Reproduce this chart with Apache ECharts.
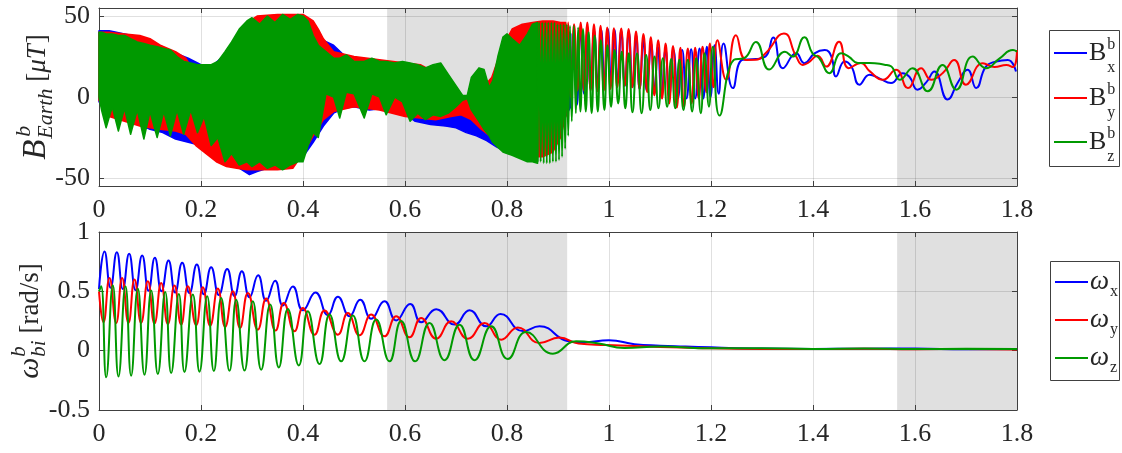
<!DOCTYPE html>
<html>
<head>
<meta charset="utf-8">
<script src="https://cdn.jsdelivr.net/npm/echarts@6/dist/echarts.min.js"></script>
<style>
  html, body { margin: 0; padding: 0; background: #ffffff; }
  #chart { width: 1122px; height: 453px; }
</style>
</head>
<body>
<div id="chart"></div>
<script>
// ---- time axis ----
const tMin = 0, tMax = 1.8, tStep = 0.2;

// eclipse intervals (shaded)
const eclipse = [[0.565, 0.918], [1.565, 1.8]];

// tick values
const bTicks = [-50, 0, 50];
const bRange = [-55, 55];
const wRange = [-0.5, 1];
const wStep = 0.5;

// ---- Earth magnetic field in body frame [uT] ----
// fast-spin part: envelope of the oscillation [t, low, high]
const bxBand = [
  [0, -3, 41], [0.02, -8, 41], [0.05, -13, 39], [0.08, -17, 37], [0.1, -20, 35],
  [0.125, -22, 31], [0.15, -26, 27], [0.175, -28, 24], [0.2, -30, 20], [0.225, -34, 20],
  [0.25, -40, 27], [0.275, -44, 35], [0.295, -48, 40], [0.31, -46, 44], [0.33, -44, 45],
  [0.35, -42, 45], [0.38, -40, 45], [0.4, -37, 44], [0.42, -28, 40], [0.44, -18, 35],
  [0.46, -10, 32], [0.48, -7, 26], [0.5, -6, 23], [0.53, -8, 21], [0.56, -7, 20],
  [0.59, -8, 19], [0.62, -15, 17], [0.65, -17, 15], [0.68, -18, 8], [0.7, -19, -6],
  [0.72, -22, -12], [0.74, -24, -13], [0.76, -27, -5], [0.78, -31, 10], [0.8, -34, 28],
  [0.82, -36, 38], [0.84, -37, 41], [0.86, -36, 42], [0.88, -32, 42], [0.9, -24, 42],
  [0.915, -12, 41], [0.925, -6, 39]
];
const byBand = [
  [0, -2, 40], [0.02, -12, 40], [0.05, -15, 39], [0.08, -18, 38], [0.1, -19, 36],
  [0.12, -20, 32], [0.15, -21, 28], [0.17, -23, 24], [0.19, -30, 14], [0.21, -35, 10],
  [0.23, -40, 14], [0.25, -43, 26], [0.27, -44, 38], [0.29, -45, 46], [0.31, -45, 50],
  [0.35, -45, 51], [0.38, -44, 51], [0.4, -35, 51], [0.42, -24, 47], [0.43, -19, 42],
  [0.44, -14, 36], [0.46, -9, 28], [0.5, -6, 25], [0.55, -8, 23], [0.6, -12, 21],
  [0.63, -13, 20], [0.66, -14, 15], [0.69, -12, 5], [0.71, -11, 0], [0.73, -14, -1],
  [0.75, -20, 5], [0.77, -25, 12], [0.79, -29, 30], [0.81, -32, 42], [0.83, -35, 45],
  [0.85, -37, 46], [0.87, -37, 47], [0.89, -34, 47], [0.905, -25, 46], [0.915, -12, 46]
];
const bzBand = [
  [0, 0, 40], [0.005, -8, 40], [0.014, -19, 39], [0.026, -6, 39], [0.038, -21, 38],
  [0.05, -7, 38], [0.062, -23, 36], [0.075, -8, 34], [0.088, -26, 33], [0.1, -9, 32],
  [0.114, -25, 31], [0.127, -9, 30], [0.14, -24, 29], [0.153, -8, 25], [0.166, -23, 22],
  [0.18, -8, 21], [0.193, -22, 20], [0.206, -12, 20], [0.22, -30, 20], [0.233, -25, 22],
  [0.247, -40, 28], [0.26, -35, 34], [0.275, -42, 42], [0.29, -40, 47], [0.3, -43, 49],
  [0.315, -40, 45], [0.33, -44, 50], [0.345, -42, 46], [0.36, -45, 51], [0.375, -42, 48],
  [0.39, -40, 51], [0.4, -40, 50], [0.41, -30, 47], [0.42, -22, 38], [0.43, -25, 32],
  [0.445, 2, 28], [0.46, 0, 24], [0.472, -13, 24], [0.485, 3, 26], [0.5, 2, 22],
  [0.52, -13, 22], [0.535, 2, 24], [0.55, 0, 22], [0.563, -11, 22], [0.58, 0, 21],
  [0.595, -3, 22], [0.61, -15, 21], [0.625, -10, 20], [0.64, -14, 18], [0.655, -11, 20],
  [0.67, -12, 21], [0.685, -10, 14], [0.7, -6, 7], [0.713, -2, 1], [0.722, -1, 1],
  [0.73, -8, 12], [0.745, -15, 18], [0.755, -20, 17], [0.765, -24, 6], [0.772, -28, 10],
  [0.782, -31, 25], [0.792, -34, 37], [0.8, -35, 39], [0.81, -36, 36], [0.825, -38, 32],
  [0.84, -40, 39], [0.85, -40, 45], [0.86, -41, 46]
];

// slow part: individual oscillation peaks and troughs [t, value]
const bxLine = [
  [0.925, -6], [0.931, 38], [0.937, -5], [0.944, 40], [0.951, 2], [0.9575, 41], [0.964, 5],
  [0.971, 41], [0.978, 8], [0.9847, 41.5], [0.991, 9], [0.9977, 42], [1.004, 10], [1.0108, 41.5],
  [1.017, 9], [1.0239, 41], [1.031, 7], [1.0389, 40], [1.046, 6], [1.0533, 38], [1.06, 5],
  [1.0676, 35.5], [1.074, 4], [1.0827, 33], [1.089, 2], [1.0958, 31], [1.103, 1], [1.1108, 29.5],
  [1.118, 0], [1.1265, 29], [1.135, -1], [1.1435, 29], [1.152, -1], [1.1611, 29.5], [1.169, -1],
  [1.1775, 30], [1.185, -1], [1.1919, 31], [1.199, 0], [1.207, 32], [1.215, 2], [1.2246, 33],
  [1.243, 5.5], [1.262, 23], [1.288, 23.5], [1.307, 25], [1.322, 36.8], [1.341, 17.8],
  [1.367, 27], [1.383, 20.9], [1.403, 27], [1.423, 29], [1.436, 25], [1.445, 12.7], [1.462, 22],
  [1.475, 19], [1.491, 7.6], [1.511, 13.7], [1.53, 11.5], [1.553, 8.6], [1.576, 14.7],
  [1.589, 12.5], [1.605, 4.5], [1.622, 9], [1.638, 15.7], [1.664, -1.6], [1.684, 9],
  [1.703, 16.8], [1.72, 5.5], [1.739, 18.8], [1.759, 21.9], [1.782, 22.9], [1.798, 15.7]
];
const byLine = [
  [0.915, -12], [0.92, 46], [0.925, 0], [0.9315, 45], [0.938, 4], [0.9445, 46], [0.951, 4],
  [0.9575, 46], [0.964, 4], [0.9705, 45], [0.977, 3.5], [0.9835, 44], [0.99, 4], [0.9965, 43],
  [1.003, 5], [1.0095, 42.5], [1.016, 6], [1.024, 42.3], [1.031, 7], [1.0385, 42], [1.0455, 6],
  [1.053, 40.5], [1.06, 5], [1.0675, 39], [1.075, 3], [1.082, 37], [1.089, 1], [1.0965, 35],
  [1.104, -1], [1.111, 33], [1.118, -4], [1.1255, 31.5], [1.133, -6.5], [1.14, 30.5],
  [1.147, -6], [1.1545, 30], [1.162, -4], [1.169, 30.5], [1.176, -1], [1.1835, 31], [1.191, 3],
  [1.198, 33], [1.205, 6], [1.2125, 35], [1.2298, 10.6], [1.249, 38.2], [1.269, 22.9],
  [1.288, 23], [1.307, 27], [1.343, 39.3], [1.367, 25], [1.38, 19.8], [1.39, 21], [1.409, 25.5],
  [1.426, 18.8], [1.451, 34.2], [1.47, 17.8], [1.494, 21], [1.511, 16], [1.537, 10.6],
  [1.563, 16.8], [1.586, 5.5], [1.612, 17.8], [1.632, 10.6], [1.655, 15], [1.677, 22.9],
  [1.7, 7.6], [1.733, 20.9], [1.756, 18.5], [1.779, 19.8], [1.792, 18.5], [1.8, 29]
];
const bzLine = [
  [0.86, -40], [0.863, 46], [0.866, -40], [0.869, 46], [0.872, -41], [0.875, 46], [0.878, -41],
  [0.881, 46], [0.884, -41], [0.887, 46], [0.89, -40], [0.893, 46], [0.896, -40], [0.899, 45],
  [0.902, -39], [0.905, 45], [0.908, -37], [0.911, 45], [0.914, -32], [0.917, 45], [0.92, -24],
  [0.9235, 44], [0.927, -15], [0.931, 44], [0.935, -10], [0.9395, 43], [0.944, -9], [0.949, 42],
  [0.9545, -9], [0.96, 40], [0.966, -10], [0.972, 38], [0.978, -9], [0.984, 35], [0.991, -8],
  [0.997, 32], [1.004, -6], [1.011, 29], [1.018, -4], [1.025, 28], [1.032, -7], [1.039, 27],
  [1.046, -9.5], [1.055, 27], [1.064, -10], [1.0729, 26], [1.081, -8], [1.0893, 25], [1.097, -7],
  [1.1056, 24], [1.114, -6], [1.122, 23.5], [1.13, -7], [1.138, 23], [1.146, -8], [1.1546, 23],
  [1.163, -9], [1.1709, 24], [1.18, -10], [1.1873, 27], [1.196, -6], [1.2036, 31],
  [1.2167, -11.5], [1.245, 23], [1.265, 24], [1.288, 34], [1.314, 17], [1.345, 28], [1.36, 25],
  [1.383, 37], [1.399, 27], [1.412, 24], [1.432, 14.7], [1.455, 27], [1.47, 25], [1.488, 21],
  [1.511, 21], [1.54, 20], [1.553, 19], [1.57, 10.6], [1.595, 17.8], [1.625, 3.5], [1.654, 19.8],
  [1.681, 4.5], [1.713, 25], [1.739, 17.8], [1.766, 23.9], [1.792, 29], [1.8, 28]
];

// ---- angular rate of body w.r.t. inertial frame [rad/s] ----
const wx = [
  [0, 0.52], [0.0108, 0.835], [0.0226, 0.53], [0.035, 0.83], [0.0467, 0.52], [0.0591, 0.816],
  [0.0716, 0.51], [0.0846, 0.802], [0.0971, 0.505], [0.1095, 0.782], [0.1225, 0.5],
  [0.1363, 0.759], [0.1493, 0.49], [0.1631, 0.74], [0.1774, 0.485], [0.1918, 0.726],
  [0.2056, 0.475], [0.2199, 0.703], [0.235, 0.47], [0.2513, 0.689], [0.2657, 0.46],
  [0.2801, 0.669], [0.2951, 0.45], [0.312, 0.635], [0.3278, 0.42], [0.3454, 0.59],
  [0.3605, 0.38], [0.3801, 0.54], [0.3997, 0.34], [0.4245, 0.49], [0.4487, 0.3],
  [0.4684, 0.455], [0.4912, 0.29], [0.5121, 0.43], [0.5337, 0.27], [0.5598, 0.416],
  [0.5827, 0.255], [0.6101, 0.394], [0.6317, 0.24], [0.6611, 0.35], [0.6971, 0.22],
  [0.7265, 0.341], [0.7592, 0.205], [0.7873, 0.31], [0.831, 0.165], [0.8637, 0.205],
  [0.92, 0.08], [0.95, 0.07], [1.0, 0.087], [1.05, 0.055], [1.1, 0.042], [1.15, 0.035],
  [1.2, 0.028], [1.25, 0.02], [1.3, 0.018], [1.4, 0.015], [1.5, 0.016], [1.6, 0.018],
  [1.7, 0.012], [1.8, 0.014]
];
const wy = [
  [0, 0.5], [0.0088, 0.24], [0.0206, 0.613], [0.0337, 0.234], [0.0453, 0.613], [0.0578, 0.234],
  [0.0696, 0.6], [0.0826, 0.234], [0.0958, 0.585], [0.1088, 0.23], [0.1219, 0.57],
  [0.135, 0.225], [0.148, 0.55], [0.1611, 0.22], [0.1742, 0.543], [0.1905, 0.215],
  [0.2036, 0.535], [0.218, 0.21], [0.233, 0.523], [0.2474, 0.2], [0.2624, 0.5],
  [0.2765, 0.192], [0.292, 0.487], [0.3114, 0.177], [0.3278, 0.44], [0.3461, 0.169],
  [0.3624, 0.402], [0.3833, 0.163], [0.3997, 0.36], [0.4225, 0.135], [0.4422, 0.338],
  [0.4684, 0.135], [0.488, 0.318], [0.5108, 0.129], [0.5337, 0.305], [0.5598, 0.121],
  [0.5827, 0.29], [0.6088, 0.113], [0.6317, 0.276], [0.6611, 0.101], [0.6905, 0.247],
  [0.7232, 0.1], [0.7559, 0.233], [0.7886, 0.093], [0.8212, 0.196], [0.8637, 0.065],
  [0.9029, 0.11], [0.94, 0.06], [0.9944, 0.048], [1.05, 0.04], [1.1, 0.03], [1.2, 0.02],
  [1.3, 0.015], [1.4, 0.013], [1.5, 0.016], [1.6, 0.012], [1.7, 0.014], [1.8, 0.01]
];
const wz = [
  [0, 0.5], [0.0042, 0.543], [0.0141, -0.225], [0.0271, 0.552], [0.0382, -0.217],
  [0.0519, 0.543], [0.063, -0.211], [0.0761, 0.523], [0.0892, -0.203], [0.1023, 0.507],
  [0.1154, -0.197], [0.1298, 0.495], [0.1415, -0.189], [0.1566, 0.478], [0.1676, -0.18],
  [0.184, 0.473], [0.1971, -0.177], [0.2121, 0.459], [0.2252, -0.172], [0.2395, 0.444],
  [0.2559, -0.17], [0.269, 0.43], [0.2853, -0.168], [0.3016, 0.416], [0.318, -0.161],
  [0.3356, 0.388], [0.3526, -0.141], [0.3703, 0.352], [0.3918, -0.124], [0.4095, 0.332],
  [0.4324, -0.113], [0.452, 0.304], [0.4749, -0.09], [0.4977, 0.296], [0.5206, -0.09],
  [0.5435, 0.262], [0.5696, -0.09], [0.5925, 0.25], [0.6199, -0.09], [0.648, 0.234],
  [0.6775, -0.08], [0.7069, 0.219], [0.7363, -0.08], [0.769, 0.205], [0.8016, -0.07],
  [0.8375, 0.157], [0.8899, -0.025], [0.9356, 0.079], [0.98, 0.06], [1.03, 0.022],
  [1.1, 0.035], [1.2, 0.02], [1.3, 0.02], [1.4, 0.015], [1.5, 0.018], [1.6, 0.014],
  [1.7, 0.016], [1.8, 0.015]
];

// ---- styling ----
const SERIF = 'Liberation Serif';
const C_X = '#0000ff', C_Y = '#ff0000', C_Z = '#009900';
const FRAME = '#404040';
const TEXT = '#262626';
const GRIDLINE = 'rgba(0,0,0,0.12)';
const SHADE = '#e0e0e0';
const TICK_FONT = 26;

const chart = echarts.init(document.getElementById('chart'), null, { renderer: 'canvas' });

// tick numbers set in the serif face through a rich-text style
const tickRich = { n: { fontFamily: SERIF, fontSize: TICK_FONT, color: TEXT, lineHeight: TICK_FONT } };
function tickFormat(v) { return '{n|' + String(parseFloat(Number(v).toFixed(3))) + '}'; }

function xAxisDef(gridIndex, position, main) {
  return {
    type: 'value', gridIndex, position, min: tMin, max: tMax, interval: tStep, z: 2,
    axisLine: { show: true, onZero: false, lineStyle: { color: FRAME, width: 1 } },
    axisTick: { show: true, inside: true, length: 5, lineStyle: { color: FRAME, width: 1 } },
    axisLabel: { show: main, fontFamily: SERIF, fontSize: TICK_FONT, color: TEXT, margin: 11,
                 showMinLabel: true, showMaxLabel: true, formatter: tickFormat, rich: tickRich },
    splitLine: { show: main, lineStyle: { color: GRIDLINE, width: 1 } }
  };
}
function yAxisDefB(position, main) {
  return {
    type: 'value', gridIndex: 0, position, min: bRange[0], max: bRange[1], z: 2,
    axisLine: { show: true, onZero: false, lineStyle: { color: FRAME, width: 1 } },
    axisTick: { show: true, inside: true, length: 5, customValues: bTicks, lineStyle: { color: FRAME } },
    axisLabel: { show: main, customValues: bTicks, fontFamily: SERIF, fontSize: TICK_FONT, color: TEXT,
                 margin: 9, formatter: tickFormat, rich: tickRich },
    splitLine: { show: main, lineStyle: { color: GRIDLINE, width: 1 } }
  };
}
function yAxisDefW(position, main) {
  return {
    type: 'value', gridIndex: 1, position, min: wRange[0], max: wRange[1], interval: wStep, z: 2,
    axisLine: { show: true, onZero: false, lineStyle: { color: FRAME, width: 1 } },
    axisTick: { show: true, inside: true, length: 5, lineStyle: { color: FRAME } },
    axisLabel: { show: main, fontFamily: SERIF, fontSize: TICK_FONT, color: TEXT, margin: 9,
                 showMinLabel: true, showMaxLabel: true, formatter: tickFormat, rich: tickRich },
    splitLine: { show: main, lineStyle: { color: GRIDLINE, width: 1 } }
  };
}

// filled envelope of a fast oscillation, drawn as one polygon through the axis scales
function bandSeries(name, color, band) {
  return {
    type: 'custom', name, xAxisIndex: 0, yAxisIndex: 0, z: 3, silent: true,
    data: [[band[0][0], band[0][1]]],
    renderItem: function (params, api) {
      const upper = band.map(p => api.coord([p[0], p[2]]));
      const lower = band.slice().reverse().map(p => api.coord([p[0], p[1]]));
      return {
        type: 'polygon',
        shape: { points: upper.concat(lower) },
        style: { fill: color, stroke: color, lineWidth: 1.5, lineJoin: 'round' }
      };
    }
  };
}
function lineSeries(name, color, data, xi, yi, smooth) {
  return {
    type: 'line', name, xAxisIndex: xi, yAxisIndex: yi, z: 3, data,
    showSymbol: false, smooth, silent: true,
    lineStyle: { color, width: 2 }, itemStyle: { color }
  };
}
function shadeSeries(xi, yi) {
  return {
    type: 'line', xAxisIndex: xi, yAxisIndex: yi, z: 1, data: [], silent: true,
    markArea: {
      silent: true, itemStyle: { color: SHADE },
      data: eclipse.map(([a, b]) => [{ xAxis: a }, { xAxis: b }])
    }
  };
}

// ---- text layout helpers (rotated axis titles, legends) ----
const mctx = document.createElement('canvas').getContext('2d');
function fontOf(size, italic) { return (italic ? 'italic ' : '') + size + 'px ' + SERIF; }
function textW(str, size, italic) { mctx.font = fontOf(size, italic); return mctx.measureText(str).width; }
function textEl(str, x, baseline, size, italic, color) {
  return {
    type: 'text', x, y: baseline - 0.305 * size, silent: true,
    style: { text: str, fontFamily: SERIF, fontSize: size, fontStyle: italic ? 'italic' : 'normal',
             fill: color || TEXT, align: 'left', verticalAlign: 'middle' }
  };
}
// segments laid out along a baseline; a segment may stack a superscript over a subscript
function layoutSegments(segs) {
  const out = [];
  let x = 0;
  segs.forEach(s => {
    if (s.sup) {
      const w1 = textW(s.sup.t, s.sup.s, s.sup.it), w2 = textW(s.sub.t, s.sub.s, s.sub.it);
      out.push(textEl(s.sup.t, x + (s.kern || 0), s.sup.dy, s.sup.s, s.sup.it));
      out.push(textEl(s.sub.t, x, s.sub.dy, s.sub.s, s.sub.it));
      x += Math.max(w1 + (s.kern || 0), w2) + (s.after || 0);
    } else {
      out.push(textEl(s.t, x, 0, s.s, s.it));
      x += textW(s.t, s.s, s.it) + (s.after || 0);
    }
  });
  return { els: out, width: x };
}
function verticalTitle(cy, baselineX, segs) {
  const L = layoutSegments(segs);
  L.els.forEach(e => { e.x -= L.width / 2; });
  return { type: 'group', x: baselineX, y: cy, rotation: Math.PI / 2, children: L.els };
}

const titleB = verticalTitle(97, 46, [
  { t: 'B', s: 33, it: true, after: 1 },
  { sup: { t: 'b', s: 22, it: true, dy: -15 }, sub: { t: 'Earth', s: 22, it: true, dy: 7 }, kern: 2, after: 0 },
  { t: ' [', s: 27 }, { t: '\u03bcT', s: 27, it: true, after: 1 }, { t: ']', s: 27 }
]);
const titleW = verticalTitle(321, 39, [
  { t: '\u03c9', s: 30, it: true, after: 1 },
  { sup: { t: 'b', s: 21, it: true, dy: -13 }, sub: { t: 'bi', s: 21, it: true, dy: 7 }, after: 0 },
  { t: ' [rad/s]', s: 27 }
]);

function legendBox(x, y, w, h, entries, symbol, symSize, symItalic, supOn) {
  const els = [{ type: 'rect', silent: true, shape: { x: x + 0.5, y: y + 0.5, width: w, height: h },
                 style: { fill: '#ffffff', stroke: FRAME, lineWidth: 1 } }];
  entries.forEach(e => {
    els.push({ type: 'line', silent: true, shape: { x1: x + 5, y1: e.y, x2: x + 38, y2: e.y },
               style: { stroke: e.color, lineWidth: 2 } });
    els.push(textEl(symbol, x + 40, e.y + 8.5, symSize, symItalic));
    const sx = x + 40 + textW(symbol, symSize, symItalic) + 1;
    if (supOn) els.push(textEl('b', sx, e.y - 3, 16, false));
    els.push(textEl(e.sub, sx, e.y + (supOn ? 20 : 15), 16, false));
  });
  return els;
}
const legendB = legendBox(1049, 30, 70, 136, [
  { y: 53, color: C_X, sub: 'x' }, { y: 98, color: C_Y, sub: 'y' }, { y: 142, color: C_Z, sub: 'z' }
], 'B', 26, false, true);
const legendW = legendBox(1050, 261, 69, 119, [
  { y: 282, color: C_X, sub: 'x' }, { y: 320, color: C_Y, sub: 'y' }, { y: 358, color: C_Z, sub: 'z' }
], '\u03c9', 27, true, false);

const option = {
  animation: false,
  backgroundColor: '#ffffff',
  textStyle: { fontFamily: SERIF },
  grid: [
    { left: 99, right: 105, top: 8, height: 178, show: false },
    { left: 99, right: 105, top: 232, height: 178, show: false }
  ],
  xAxis: [xAxisDef(0, 'bottom', true), xAxisDef(0, 'top', false),
          xAxisDef(1, 'bottom', true), xAxisDef(1, 'top', false)],
  yAxis: [yAxisDefB('left', true), yAxisDefB('right', false),
          yAxisDefW('left', true), yAxisDefW('right', false)],
  series: [
    shadeSeries(0, 0),
    shadeSeries(2, 2),
    bandSeries('Bx', C_X, bxBand),
    bandSeries('By', C_Y, byBand),
    bandSeries('Bz', C_Z, bzBand),
    lineSeries('Bx', C_X, bxLine, 0, 0, 0.5),
    lineSeries('By', C_Y, byLine, 0, 0, 0.5),
    lineSeries('Bz', C_Z, bzLine, 0, 0, 0.5),
    lineSeries('wx', C_X, wx, 2, 2, 0.5),
    lineSeries('wy', C_Y, wy, 2, 2, 0.5),
    lineSeries('wz', C_Z, wz, 2, 2, 0.5)
  ],
  graphic: { elements: [titleB, titleW].concat(legendB, legendW) }
};
chart.setOption(option);
</script>
</body>
</html>
